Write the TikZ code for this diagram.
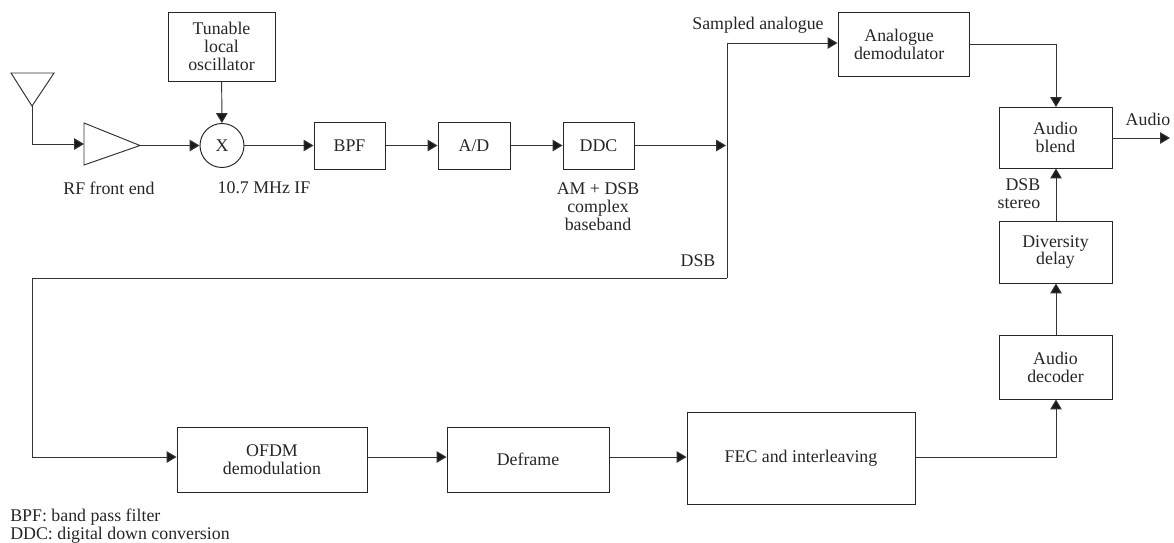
\documentclass[tikz,border=0pt]{standalone}
\usepackage{fontspec}
\setmainfont{Liberation Serif}
\usetikzlibrary{arrows.meta}
\tikzset{
  blockbox/.style={draw=black!85, line width=0.55pt, align=center, inner sep=0pt},
  mixer/.style={draw=black!85, line width=0.55pt, circle, inner sep=0pt, minimum size=44*0.02cm},
  link/.style={draw=black!80, line width=0.55pt, -{Triangle[length=5.6pt,width=6.5pt,fill=black!90]}},
  plainlink/.style={draw=black!80, line width=0.55pt},
  caption/.style={align=center, inner sep=0pt, text=black!85},
}
\newcommand{\blockat}[6]{\node[blockbox, minimum width=(#4-#2)*0.02cm, minimum height=(#5-#3)*0.02cm] (#1) at ({(#2+#4)/2},{(#3+#5)/2}) {#6};}
\begin{document}
\begin{tikzpicture}[x=0.02cm, y=-0.02cm, font=\fontsize{10.15}{10.2}\selectfont, text=black!85]
\useasboundingbox (0,0) rectangle (1174,542);

% Blocks
\blockat{lo}{168}{12}{275}{81}{Tunable\\local\\oscillator}
\blockat{bpf}{314}{122}{385}{169}{BPF}
\blockat{adc}{438}{122}{510}{169}{A/D}
\blockat{ddc}{563}{122}{634}{169}{DDC}
\blockat{demod}{838}{12}{969}{76}{Analogue\rule{5pt}{0pt}\\demodulator\rule{5pt}{0pt}}
\blockat{blend}{999}{107}{1112}{168}{Audio\\blend}
\blockat{delay}{999}{221}{1112}{283}{Diversity\\delay}
\blockat{decoder}{999}{335}{1112}{399}{Audio\\decoder}
\blockat{ofdm}{177}{427}{367}{492}{OFDM\\demodulation}
\blockat{deframe}{447}{427}{609}{492}{Deframe}
\blockat{fec}{687}{412}{915}{504}{FEC and interleaving}
\node[mixer] (mix) at (222,145.5) {X};

% Antenna and amplifier
\coordinate (ant) at (32,106);
\draw[plainlink] (11,73) -- (54,73) -- (ant) -- cycle;
\coordinate (ampin) at (84,144);
\coordinate (ampout) at (140,145.5);
\draw[plainlink] (84,123) -- (ampout) -- (84,165) -- cycle;

% Branch points
\coordinate (split) at (726,145.5);
\coordinate (dsbturn) at (727,278);
\coordinate (dsbleft) at (32,278);
\coordinate (analogturn) at (727,43);
\coordinate (audioout) at (1170,138);
\coordinate (fecout) at (915,457);
\coordinate (blendin) at (1056,107);

% Connectors
\draw[link] (ant) |- (ampin);
\draw[link] (ampout) -- (mix);
\draw[link] (lo) -- (mix);
\draw[link] (mix) -- (bpf);
\draw[link] (bpf) -- (adc);
\draw[link] (adc) -- (ddc);
\draw[link] (ddc) -- (split);
\draw[link] (dsbturn) -- (analogturn) -- (demod.west |- analogturn);
\draw[link] (dsbturn) -- (dsbleft) |- (ofdm.west |- 0,457);
\draw[link] (ofdm.east |- 0,457) -- (deframe.west |- 0,457);
\draw[link] (deframe.east |- 0,457) -- (fec.west |- 0,457);
\draw[link] (fecout) -| (blendin |- decoder.south);
\draw[link] (blendin |- decoder.north) -- (blendin |- delay.south);
\draw[link] (blendin |- delay.north) -- (blendin |- blend.south);
\draw[link] (demod.east |- 0,44) -| (blendin);
\draw[link] (blend.east |- audioout) -- (audioout);

% Labels
\node[caption] (rflabel) at (109,188) {RF front end};
\node[caption] (iflabel) at (264,188) {10.7 MHz IF};
\node[caption] (bblabel) at (598,207) {AM + DSB\\complex\\baseband};
\node[caption] (dsblabel) at (698,261) {DSB};
\node[caption] (sampledlabel) at (758,25) {Sampled analogue};
\node[caption] (audiolabel) at (1148,119) {Audio};
\node[caption, align=left] (stereolabel) at (1019,194) {\hspace*{4.5pt}DSB\\stereo};
\node[caption, align=left] (notelabel) at (120,526) {BPF: band pass filter\\DDC: digital down conversion};

\end{tikzpicture}
\end{document}
